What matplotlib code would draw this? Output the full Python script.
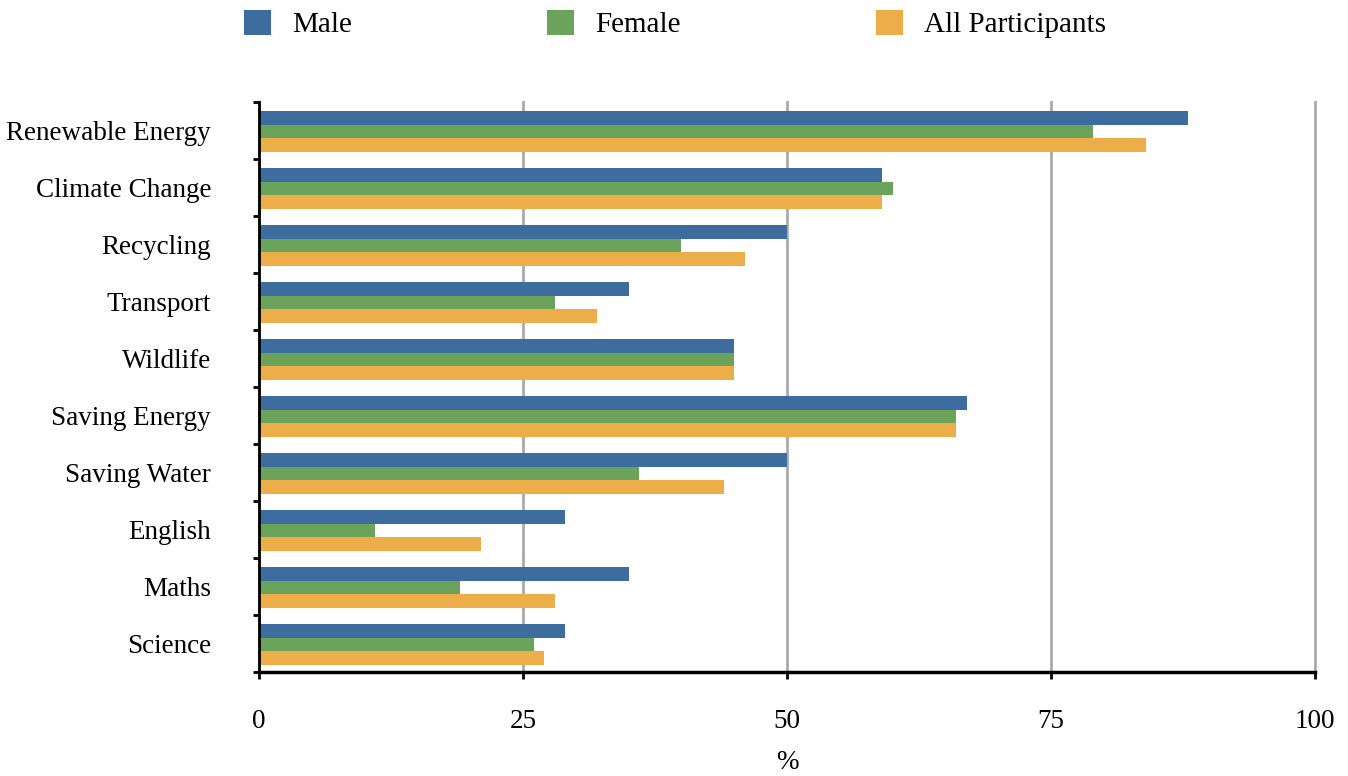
import matplotlib
matplotlib.use("Agg")
import matplotlib.pyplot as plt
import numpy as np
from matplotlib.patches import Patch

categories = ["Renewable Energy", "Climate Change", "Recycling", "Transport", "Wildlife",
              "Saving Energy", "Saving Water", "English", "Maths", "Science"]
male = [88, 59, 50, 35, 45, 67, 50, 29, 35, 29]
female = [79, 60, 40, 28, 45, 66, 36, 11, 19, 26]
all_participants = [84, 59, 46, 32, 45, 66, 44, 21, 28, 27]
series_names = ["Male", "Female", "All Participants"]
x_ticks = [0, 25, 50, 75, 100]

colors = ["#3C6D9E", "#6BA35A", "#EDAE4A"]

plt.rcParams['font.family'] = ['Liberation Serif', 'DejaVu Serif']

fig = plt.figure(figsize=(13.48, 7.76), dpi=100)
ax = fig.add_axes([259/1348, 1 - 672/776, (1315-259)/1348, (672-102)/776])

y = np.arange(len(categories))
h = 0.24
for i, (vals, c) in enumerate(zip([male, female, all_participants], colors)):
    ax.barh(y + (i - 1) * h + 0.02, vals, height=h, color=c, zorder=3, label=series_names[i])

ax.set_ylim(len(categories) - 0.5, -0.5)
ax.set_xlim(0, 100)
ax.set_xticks(x_ticks)
ax.set_xticklabels([str(t) for t in x_ticks], fontsize=19.5)
ax.set_yticks(y)
ax.set_yticklabels(categories, fontsize=19.5)
ax.set_yticks(np.arange(-0.5, len(categories), 1), minor=True)
ax.tick_params(axis='y', which='major', length=0, pad=34.5)
ax.tick_params(axis='y', which='minor', length=4, width=2, color='black', direction='out')
ax.tick_params(axis='x', which='major', length=5, width=2, color='black', direction='out', pad=22)

ax.grid(axis='x', color='#AAAAAA', linewidth=2, zorder=0)
ax.set_axisbelow(True)
for gl in ax.get_xgridlines():
    gl.set_clip_on(False)
for s in ['top', 'right']:
    ax.spines[s].set_visible(False)
ax.spines['left'].set_linewidth(2)
ax.spines['bottom'].set_linewidth(2.5)
ax.spines['left'].set_zorder(4)

ax.set_xlabel("%", fontsize=19.5, labelpad=11)

handles = [Patch(facecolor=c, edgecolor='none') for c in colors]
fig.legend(handles, series_names, loc='center', bbox_to_anchor=(675/1348, 1 - 24/776),
           ncol=3, frameon=False, fontsize=21, handlelength=0.93, handleheight=0.93,
           handletextpad=0.72, columnspacing=6.68, borderaxespad=0)

fig.savefig("out.png", dpi=100)
